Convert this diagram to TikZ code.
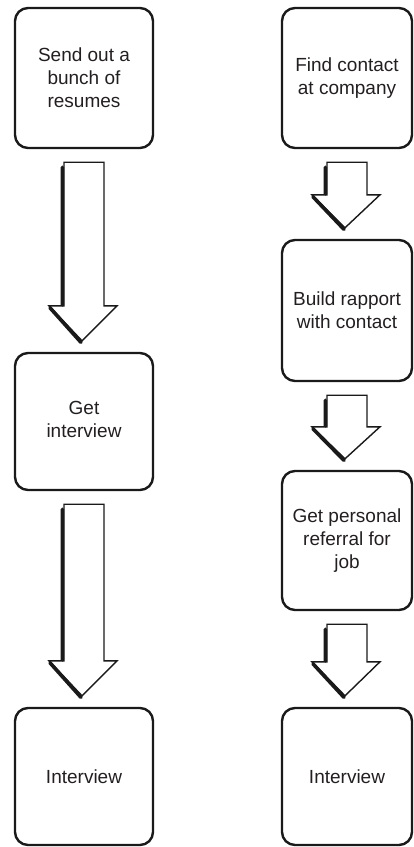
\documentclass[tikz,border=0pt]{standalone}
\usepackage{fontspec}
\setmainfont{Liberation Sans}
\usetikzlibrary{calc}
\definecolor{ink}{HTML}{1A1A1A}
\definecolor{txt}{HTML}{231F20}
\tikzset{
  stepbox/.style={draw=ink, line width=2.4pt, rounded corners=13pt,
    minimum height=140pt, align=center, text=txt,
    font=\fontsize{19}{23}\selectfont, inner sep=0pt},
  leftbox/.style={stepbox, minimum width=138pt},
  rightbox/.style={stepbox, minimum width=130pt},
  arrowthin/.style={draw=ink, line width=1.4pt, line join=miter, fill=white},
  arrowthick/.style={draw=ink, line width=3.6pt, line cap=round},
}
% block arrow from node #1 to node #2, head length #3
\newcommand{\blockarrow}[3]{%
  \draw[arrowthin] let \p1=($(#1.south)+(0,13)$), \p2=($(#2.north)+(0,-11)$) in
    (\x1-20pt,\y1) -- (\x1+20pt,\y1) -- (\x1+20pt,\y2+#3) -- (\x1+33pt,\y2+#3)
    -- (\x1-2pt,\y2) -- (\x1-35pt,\y2+#3) -- (\x1-20pt,\y2+#3) -- cycle;
  \draw[arrowthick] let \p1=($(#1.south)+(0,13)$), \p2=($(#2.north)+(0,-11)$) in
    (\x1-21.6pt,\y1-5pt) -- (\x1-21.6pt,\y2+#3+1pt)
    (\x1-34pt,\y2+#3-2pt) -- (\x1-3pt,\y2-1.6pt);
}
\begin{document}
\begin{tikzpicture}[x=1pt,y=-1pt]
\useasboundingbox (0,0) rectangle (414,847);
% left column
\node[leftbox] (l1) at (84,78) {Send out a\\bunch of\\resumes};
\node[leftbox, minimum height=137pt] (l2) at (84,421.5) {\raisebox{-4pt}{\begin{tabular}{@{}c@{}}Get\\interview\end{tabular}}};
\node[leftbox, minimum height=137pt] (l3) at (84,776.5) {Interview};
% right column
\node[rightbox] (r1) at (347,78) {Find contact\\at company};
\node[rightbox, minimum height=141pt] (r2) at (347,310.5) {Build rapport\\with contact};
\node[rightbox, minimum height=139pt] (r3) at (347,540.5) {Get personal\\referral for\\job};
\node[rightbox, minimum height=137pt] (r4) at (347,776.5) {Interview};
% arrows
\blockarrow{l1}{l2}{35pt}
\blockarrow{l2}{l3}{35pt}
\blockarrow{r1}{r2}{33pt}
\blockarrow{r2}{r3}{32pt}
\blockarrow{r3}{r4}{34pt}
\end{tikzpicture}
\end{document}
